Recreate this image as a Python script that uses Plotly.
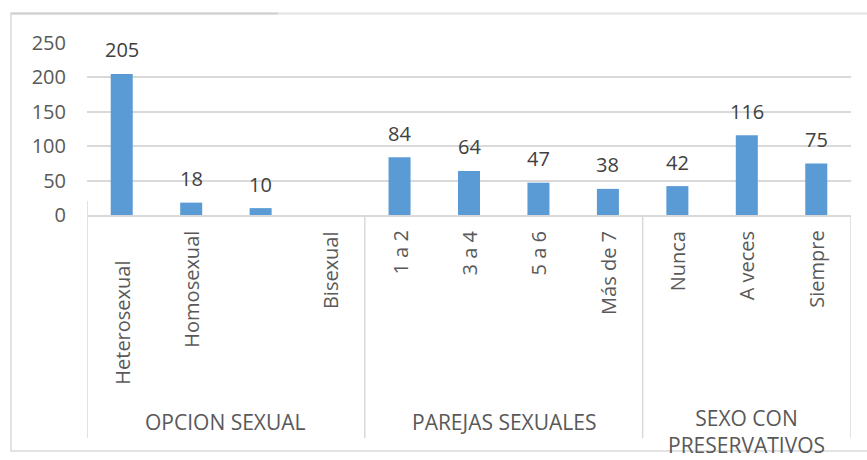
import plotly.graph_objects as go

# ---------------- data ----------------
categories = ["Heterosexual", "Homosexual", "", "Bisexual",
              "1 a 2", "3 a 4", "5 a 6", "Más de 7",
              "Nunca", "A veces", "Siempre"]
values = [205, 18, 10, None, 84, 64, 47, 38, 42, 116, 75]
groups = ["OPCION SEXUAL", "PAREJAS SEXUALES", "SEXO CON\nPRESERVATIVOS"]
group_sizes = [4, 4, 3]
y_ticks = [0, 50, 100, 150, 200, 250]

# ---------------- layout constants ----------------
W, H = 867, 460
L, R, T, B = 87, 851, 43, 215          # plot area in pixels
FONT = "Open Sans"
TXT = "#595959"
GRID = "#D9D9D9"
BAR = "#5B9BD5"


def yp(px):
    return (B - px) / (B - T)


def xp(px):
    return (px - L) / (R - L)


xs = list(range(len(categories)))

fig = go.Figure()
fig.add_trace(go.Bar(
    x=xs, y=[v if v is not None else 0 for v in values],
    marker=dict(color=BAR, line=dict(width=0)),
    hoverinfo="skip",
))

annotations = []
# data labels
for x, v in zip(xs, values):
    if v is None:
        continue
    annotations.append(dict(
        x=x, y=v, xref="x", yref="y", text=str(v), showarrow=False,
        xanchor="center", yanchor="middle", yshift=24,
        font=dict(family=FONT, size=20, color="#404040")))

# rotated category labels (the Heterosexual label sits lower in the original)
label_drop = {"Heterosexual": 30}
for x, c in zip(xs, categories):
    if not c:
        continue
    annotations.append(dict(
        x=x, xref="x", y=yp(229 + label_drop.get(c, 0)), yref="paper",
        text=c, showarrow=False, textangle=-90,
        xanchor="center", yanchor="top",
        font=dict(family=FONT, size=20, color=TXT)))

# group labels
start = 0
bounds = [-0.5]
for g, n in zip(groups, group_sizes):
    center = start + (n - 1) / 2
    if "\n" in g:
        ann = dict(y=yp(H), yanchor="bottom", text=g.replace("\n", "<br>"))
    else:
        ann = dict(y=yp(422), yanchor="middle", text=g)
    annotations.append(dict(
        x=center, xref="x", yref="paper", showarrow=False,
        xanchor="center", borderpad=0,
        font=dict(family=FONT, size=21, color=TXT), **ann))
    start += n
    bounds.append(start - 0.5)

shapes = []
# separators of the category axis
for i, bx in enumerate(bounds):
    shapes.append(dict(type="line", xref="x", yref="paper",
                       x0=bx, x1=bx, y0=yp(201) if i == 0 else 0, y1=yp(438),
                       line=dict(color=GRID, width=1.5)))
# chart border
shapes.append(dict(type="rect", xref="paper", yref="paper",
                   x0=xp(11), x1=xp(W + 20), y0=yp(451), y1=yp(13.5),
                   line=dict(color="#E3E3E3", width=2), layer="below"))
shapes.append(dict(type="line", xref="paper", yref="paper",
                   x0=xp(11), x1=xp(278), y0=yp(13.5), y1=yp(13.5),
                   line=dict(color="#D0D0D0", width=2)))

fig.update_layout(
    width=W, height=H,
    margin=dict(l=L, r=W - R, t=T, b=H - B, pad=0),
    paper_bgcolor="white", plot_bgcolor="white",
    showlegend=False,
    bargap=0.683,
    font=dict(family=FONT, size=20, color=TXT),
    xaxis=dict(range=[-0.5, len(categories) - 0.5], showticklabels=False,
               showgrid=False, zeroline=False, showline=True,
               linecolor=GRID, linewidth=1.5, ticks=""),
    yaxis=dict(range=[0, 250], tickvals=y_ticks, showgrid=True,
               gridcolor=GRID, gridwidth=1.5, zeroline=False, showline=False,
               ticks="", ticklabelstandoff=20,
               tickfont=dict(family=FONT, size=20, color=TXT)),
    annotations=annotations,
    shapes=shapes,
)

fig.write_html(
    "out.html",
    config={"displayModeBar": False},
    post_script="document.body.style.margin='0';document.body.style.overflow='hidden';",
)
